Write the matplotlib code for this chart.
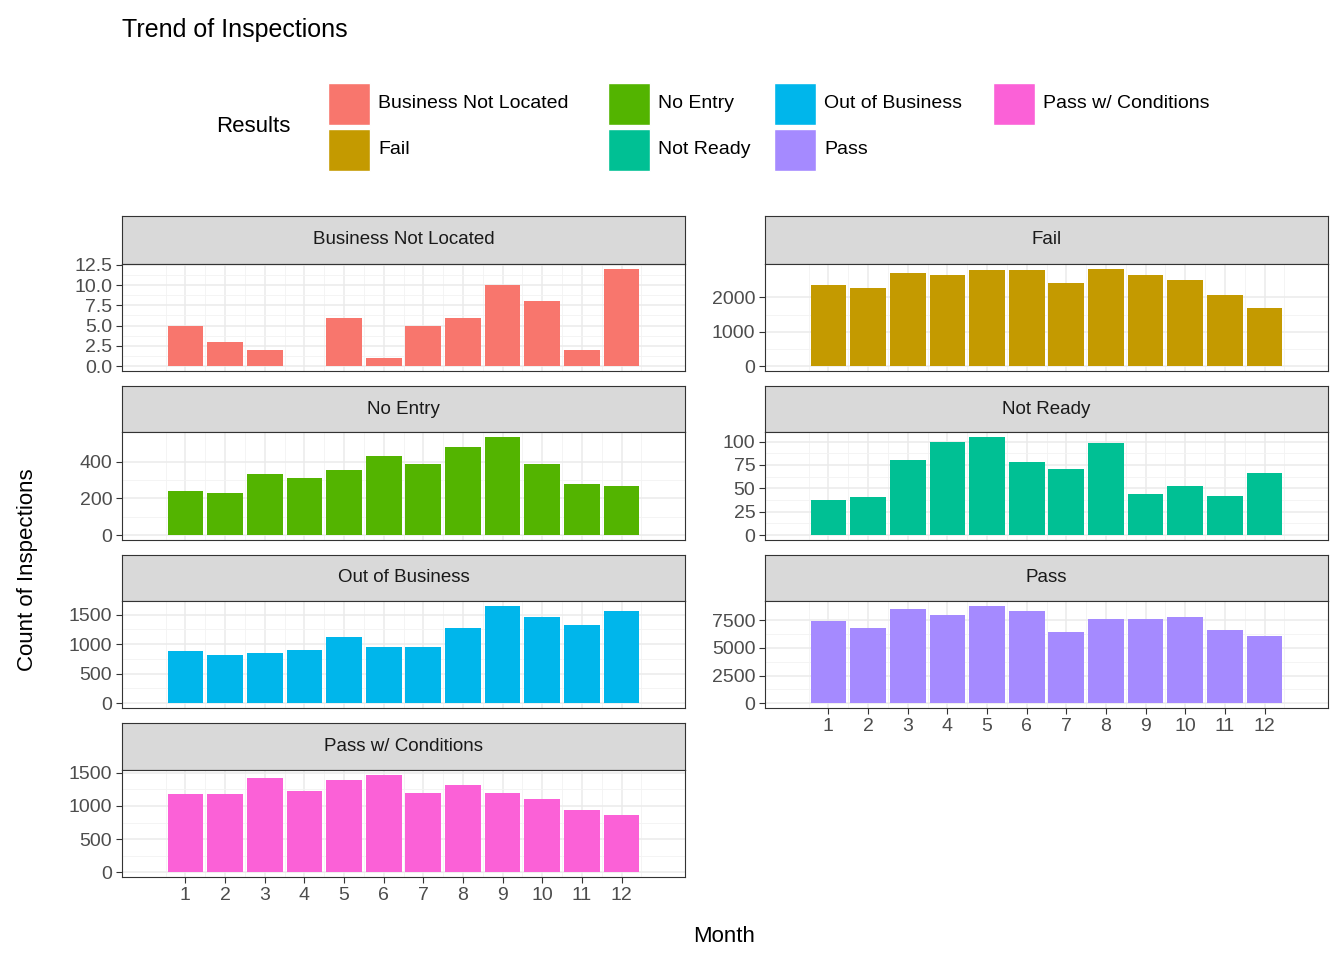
import matplotlib
matplotlib.use("Agg")
import matplotlib.pyplot as plt
from matplotlib.patches import Rectangle

plt.rcParams['font.family'] = ['Liberation Sans', 'DejaVu Sans']

months = list(range(1, 13))
categories = ["Business Not Located", "Fail", "No Entry", "Not Ready",
              "Out of Business", "Pass", "Pass w/ Conditions"]
colors = ["#F8766D", "#C49A00", "#53B400", "#00C094", "#00B6EB", "#A58AFF", "#FB61D7"]
bnl = [5, 3, 2, 0, 6, 1, 5, 6, 10, 8, 2, 12]
fail = [2350, 2280, 2700, 2650, 2800, 2800, 2430, 2830, 2650, 2500, 2080, 1700]
no_entry = [240, 230, 335, 310, 355, 430, 385, 480, 535, 385, 280, 265]
not_ready = [37, 41, 80, 100, 105, 78, 71, 99, 44, 52, 42, 66]
oob = [880, 820, 850, 900, 1130, 950, 950, 1270, 1650, 1460, 1320, 1560]
passed = [7400, 6800, 8500, 8000, 8800, 8300, 6400, 7600, 7600, 7800, 6600, 6100]
pwc = [1180, 1180, 1420, 1230, 1390, 1470, 1190, 1310, 1200, 1100, 940, 860]
series = [bnl, fail, no_entry, not_ready, oob, passed, pwc]
yticks = [[0, 2.5, 5, 7.5, 10, 12.5], [0, 1000, 2000], [0, 200, 400],
          [0, 25, 50, 75, 100], [0, 500, 1000, 1500], [0, 2500, 5000, 7500],
          [0, 500, 1000, 1500]]

W, H = 1344, 960
fig = plt.figure(figsize=(W / 100, H / 100), dpi=100)

def box(x0, y0, x1, y1):
    return [x0 / W, 1 - y1 / H, (x1 - x0) / W, (y1 - y0) / H]

cols = [(122, 685), (765, 1328)]
rows = [(216, 264, 371), (386, 432, 540), (555, 601, 708), (723, 770, 877)]
tc = "#4D4D4D"
for i, (name, vals) in enumerate(zip(categories, series)):
    r, c = divmod(i, 2)
    x0, x1 = cols[c]
    st, pt, pb = rows[r]
    sax = fig.add_axes(box(x0, st, x1, pt))
    sax.set_facecolor("#D9D9D9")
    sax.set_xticks([]); sax.set_yticks([])
    for s in sax.spines.values():
        s.set_color("#333333")
    sax.text(0.5, 0.5, name, ha="center", va="center", fontsize=13.5, color="#1A1A1A", transform=sax.transAxes)
    ax = fig.add_axes(box(x0, pt, x1, pb))
    mx = max(vals)
    ax.bar(months, vals, width=0.9, color=colors[i], zorder=3)
    ax.set_xlim(-0.6, 13.6)
    ax.set_ylim(-0.05 * mx, 1.05 * mx)
    yt = yticks[i]
    ax.set_yticks(yt)
    if i == 0:
        ax.set_yticklabels([f"{v:.1f}" for v in yt])
    else:
        ax.set_yticklabels([str(int(v)) for v in yt])
    ax.set_yticks([(a + b) / 2 for a, b in zip(yt[:-1], yt[1:])], minor=True)
    ax.set_xticks(months)
    ax.set_xticks([m + 0.5 for m in range(0, 13)], minor=True)
    ax.grid(True, which="major", color="#EBEBEB", lw=1.1, zorder=0)
    ax.grid(True, which="minor", color="#F3F3F3", lw=0.6, zorder=0)
    ax.tick_params(which="minor", length=0)
    ax.tick_params(which="major", length=4, color="#333333", labelsize=14, labelcolor=tc, pad=3)
    if i not in (5, 6):
        ax.tick_params(axis="x", length=0, labelbottom=False)
    for s in ax.spines.values():
        s.set_color("#333333")

fig.text(122 / W, 1 - 30 / H, "Trend of Inspections", fontsize=18, va="center", ha="left")
fig.text(724 / W, 1 - 937 / H, "Month", fontsize=16, ha="center", va="center")
fig.text(28 / W, 1 - 570 / H, "Count of Inspections", fontsize=16, rotation=90, ha="center", va="center")

# legend
fig.text(216 / W, 1 - 127 / H, "Results", fontsize=16, ha="left", va="center")
key_x = [328, 608, 774, 993]
key_y = [104, 150]
for i, (name, col) in enumerate(zip(categories, colors)):
    cc, rr = divmod(i, 2)
    kx, ky = key_x[cc], key_y[rr]
    fig.patches.append(Rectangle((kx / W, 1 - (ky + 21) / H), 42 / W, 42 / H,
                                 facecolor=col, edgecolor="white", lw=1,
                                 transform=fig.transFigure, figure=fig))
    fig.text((kx + 50) / W, 1 - ky / H, name, fontsize=14, ha="left", va="center")

fig.savefig("out.png", dpi=100)
